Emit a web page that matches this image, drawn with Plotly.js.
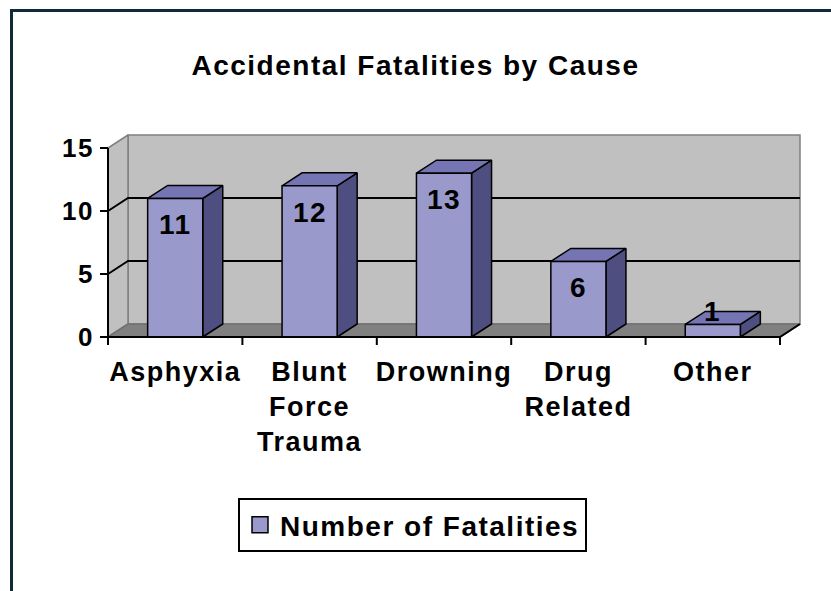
<!DOCTYPE html>
<html><head><meta charset="utf-8">
<script src="https://cdn.plot.ly/plotly-3.0.1.min.js"></script>
<style>
html,body{margin:0;padding:0;background:#fff;overflow:hidden;}
#chart{width:831px;height:591px;}
#frame{position:absolute;left:10px;top:9px;width:900px;height:700px;border-left:3px solid #0f2a3b;border-top:3px solid #0f2a3b;pointer-events:none;}
text{letter-spacing:1.5px;}
</style></head><body>
<div id="chart"></div><div id="frame"></div>
<script>
// ---- data ----
const categories = ['Asphyxia', 'Blunt Force Trauma', 'Drowning', 'Drug Related', 'Other'];
const categoryLabels = ['Asphyxia', 'Blunt<br>Force<br>Trauma', 'Drowning', 'Drug<br>Related', 'Other'];
const fatalities = [11, 12, 13, 6, 1];
const yTickValues = [0, 5, 10, 15];
const yTickLabels = ['0', '5', '10', '15'];
const seriesName = 'Number of Fatalities';
const chartTitle = 'Accidental Fatalities by Cause';

// ---- styling / geometry ----
const W = 831, H = 591;
const originX = 108, originY = 337;      // pixel of front-left corner of floor
const kx = 134.4, ky = 12.6;             // px per category, px per unit
const margin = {l: 95, r: 18, t: 125, b: 244, autoexpand: false};
const n = categories.length;
const dx = 20 / kx, dy = 13 / ky;        // 3-D depth offset in data units
const barW = 0.41;
const tickLx = 8 / kx, tickLy = 8 / ky;
const FONT = 'Liberation Sans, Arial, sans-serif';
const cFront = '#9999CC', cTop = '#7575B4', cSide = '#4E4E80';

const xr0 = -0.5 - (originX - margin.l) / kx;
const xRange = [xr0, xr0 + (W - margin.l - margin.r) / kx];
const yr0 = -(H - margin.b - originY) / ky;
const yRange = [yr0, yr0 + (H - margin.t - margin.b) / ky];

const xL = -0.5, xR = n - 0.5, yTop = Math.max(...yTickValues);

function shapes(list, closed) {
  const x = [], y = [];
  list.forEach((pts, i) => {
    if (i) { x.push(null); y.push(null); }
    const p = closed ? pts.concat([pts[0]]) : pts;
    p.forEach(q => { x.push(q[0]); y.push(q[1]); });
  });
  return {x, y};
}
function polyTrace(list, fill, lc, lw) {
  const d = shapes(list, true);
  return {type: 'scatter', mode: 'lines', x: d.x, y: d.y, fill: 'toself', fillcolor: fill,
          line: {color: lc, width: lw}, hoverinfo: 'skip', showlegend: false};
}
function lineTrace(list, lc, lw) {
  const d = shapes(list, false);
  return {type: 'scatter', mode: 'lines', x: d.x, y: d.y,
          line: {color: lc, width: lw}, hoverinfo: 'skip', showlegend: false};
}

const traces = [];
// walls and floor
traces.push(polyTrace([[[xL + dx, dy], [xR + dx, dy], [xR + dx, yTop + dy], [xL + dx, yTop + dy]]], '#C0C0C0', '#808080', 1.5));
traces.push(polyTrace([[[xL, 0], [xL + dx, dy], [xL + dx, yTop + dy], [xL, yTop]]], '#C0C0C0', '#808080', 1.5));
traces.push(polyTrace([[[xL, 0], [xR, 0], [xR + dx, dy], [xL + dx, dy]]], '#808080', '#707070', 1.5));
// gridlines
traces.push(lineTrace(yTickValues.filter(v => v > 0 && v < yTop).map(v =>
  [[xL, v], [xL + dx, v + dy], [xR + dx, v + dy]]), '#000', 2));
// bars
const sides = [], tops = [], fronts = [];
fatalities.forEach((v, i) => {
  const x0 = i - barW / 2, x1 = i + barW / 2;
  sides.push([[x1, 0], [x1 + dx, dy], [x1 + dx, v + dy], [x1, v]]);
  tops.push([[x0, v], [x0 + dx, v + dy], [x1 + dx, v + dy], [x1, v]]);
  fronts.push([[x0, 0], [x1, 0], [x1, v], [x0, v]]);
});
traces.push(polyTrace(sides, cSide, '#000', 1.5));
traces.push(polyTrace(tops, cTop, '#000', 1.5));
traces.push(polyTrace(fronts, cFront, '#000', 1.5));
// axis lines and ticks
traces.push(lineTrace([[[xL, 0], [xL, yTop]], [[xL, 0], [xR, 0], [xR + dx, dy]]], '#000', 2));
const tickSegs = yTickValues.map(v => [[xL - tickLx, v], [xL, v]]);
for (let k = 0; k <= n; k++) tickSegs.push([[k - 0.5, 0], [k - 0.5, -tickLy]]);
traces.push(lineTrace(tickSegs, '#000', 2));
// legend entry
traces.push({type: 'scatter', mode: 'markers', x: [null], y: [null], name: seriesName,
  marker: {symbol: 'square', size: 16, color: cFront, line: {color: '#000', width: 1.5}},
  hoverinfo: 'skip', showlegend: true});

const annotations = fatalities.map((v, i) => {
  const inside = v * ky >= 40;
  return {x: i, y: v, xref: 'x', yref: 'y', text: String(v), showarrow: false,
    yanchor: inside ? 'top' : 'bottom', yshift: inside ? -9 : -5,
    font: {family: FONT, size: 28, color: '#000', weight: 'bold'}};
});

const layout = {
  width: W, height: H, margin: margin,
  paper_bgcolor: '#fff', plot_bgcolor: 'rgba(0,0,0,0)',
  title: {text: chartTitle, x: 0.5, xref: 'container', y: 1 - 65.5 / H, yref: 'container', yanchor: 'middle',
    font: {family: FONT, size: 28, color: '#000', weight: 'bold'}},
  xaxis: {range: xRange, showgrid: false, zeroline: false, showline: false, ticks: '', tickangle: 0, automargin: false,
    tickvals: categories.map((c, i) => i), ticktext: categoryLabels, ticklabelstandoff: 6,
    tickfont: {family: FONT, size: 27, color: '#000', weight: 'bold'}, fixedrange: true},
  yaxis: {range: yRange, showgrid: false, zeroline: false, showline: false, ticks: '', automargin: false,
    tickvals: yTickValues, ticktext: yTickLabels, ticklabelstandoff: 0,
    tickfont: {family: FONT, size: 26, color: '#000', weight: 'bold'}, fixedrange: true},
  showlegend: true,
  legend: {x: 412.5 / W, xref: 'container', xanchor: 'center', y: 1 - 498 / H, yref: 'container', yanchor: 'top',
    bordercolor: '#000', borderwidth: 2, bgcolor: '#fff', itemsizing: 'trace',
    font: {family: FONT, size: 28, color: '#000', weight: 'bold'}},
  annotations: annotations
};
Plotly.newPlot('chart', traces, layout, {displayModeBar: false, staticPlot: true});
</script>
</body></html>
